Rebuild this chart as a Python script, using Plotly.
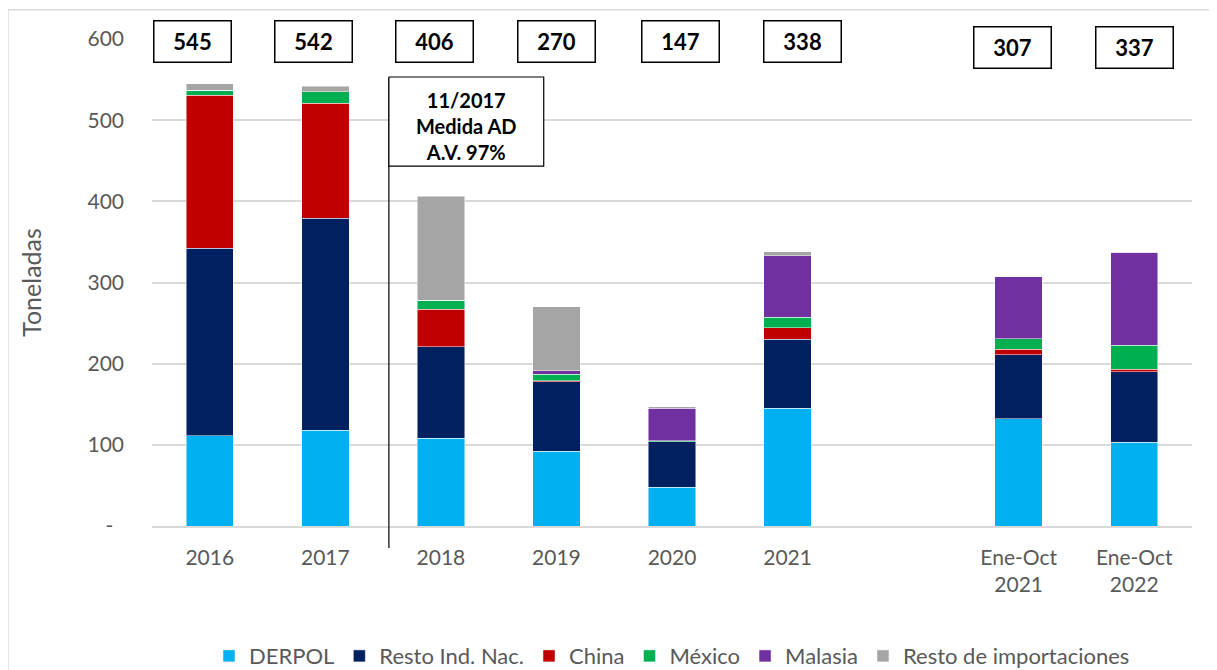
import plotly.graph_objects as go

categories = ["2016", "2017", "2018", "2019", "2020", "2021", " ", "Ene-Oct<br>2021", "Ene-Oct<br>2022"]

derpol = [111, 118, 108, 92, 48, 145, None, 132, 103]
resto_ind = [231, 261, 113, 86, 56, 85, None, 79, 87]
china = [189, 142, 46, 1, 0, 14, None, 7, 3]
mexico = [6, 14, 11, 8, 1, 13, None, 13, 30]
malasia = [0, 0, 0, 4, 40, 76, None, 76, 114]
resto_imp = [8, 7, 128, 79, 2, 5, None, 0, 0]

series = [
    ("DERPOL", derpol, "#00B0F0"),
    ("Resto Ind. Nac.", resto_ind, "#002060"),
    ("China", china, "#C00000"),
    ("México", mexico, "#00B050"),
    ("Malasia", malasia, "#7030A0"),
    ("Resto de importaciones", resto_imp, "#A5A5A5"),
]

# small horizontal nudges of the total boxes, as in the original sheet
box_shift = [-17, -12, -6, 0, 8, 15, 0, -6, 0]
box_y = [597, 597, 597, 597, 597, 597, None, 590, 590]

FONT = "Lato"
GREY = "#595959"

fig = go.Figure()
for name, vals, color in series:
    fig.add_trace(go.Bar(
        x=categories, y=vals, name=name, marker_color=color,
        marker_line={"color": "rgba(255,255,255,0.6)", "width": 0.8},
        width=0.41, hoverinfo="name+y",
    ))

# annotations on a category axis take the category index, not the label
for i in range(len(categories)):
    if derpol[i] is None:
        continue
    total = sum(s[1][i] for s in series)
    fig.add_annotation(
        x=i, y=box_y[i], xref="x", yref="y", xshift=box_shift[i],
        text=f"<b>{total}</b>", showarrow=False,
        font={"family": FONT, "size": 22, "color": "black"},
        bordercolor="black", borderwidth=1.5, borderpad=2,
        width=72, height=36, bgcolor="white",
    )

# measure marker between 2017 and 2018: line, white box, then text
fig.add_shape(type="line", xref="x", yref="paper", x0=1.55, x1=1.55, y0=-0.045, y1=0.92,
              line={"color": "black", "width": 1.2})
fig.add_shape(type="rect", xref="x", yref="paper", x0=1.55, x1=2.89, y0=0.739, y1=0.922,
              line={"color": "black", "width": 1.2}, fillcolor="white", layer="above")
fig.add_annotation(
    x=2.22, y=0.821, xref="x", yref="paper", xanchor="center", yanchor="middle",
    text="<b>11/2017<br>Medida AD<br>A.V. 97%</b>", showarrow=False, align="center",
    font={"family": FONT, "size": 20, "color": "black"},
)

# outer chart border
fig.add_shape(type="rect", xref="paper", yref="paper", x0=-0.1385, x1=1.04, y0=-0.5, y1=1.06,
              line={"color": "#D9D9D9", "width": 1.5}, layer="below")

# the page body adds an 8px margin, so the figure is sized to fit inside the window
fig.update_layout(
    barmode="stack",
    width=1209, height=662,
    margin={"l": 144, "r": 25, "t": 31, "b": 144},
    plot_bgcolor="white", paper_bgcolor="white",
    font={"family": FONT, "size": 21, "color": GREY},
    legend={"orientation": "h", "x": 0.5, "xanchor": "center",
            "yref": "container", "y": 0.021, "yanchor": "middle",
            "font": {"size": 22, "color": GREY}, "traceorder": "normal"},
    xaxis={"type": "category", "range": [-0.5, 8.5], "automargin": False,
           "showgrid": False, "showline": True, "linecolor": "#D9D9D9", "linewidth": 1.5,
           "ticks": "", "ticklabelstandoff": 12, "tickfont": {"size": 21, "color": GREY}},
    yaxis={"range": [0, 600], "automargin": False,
           "tickvals": [0, 100, 200, 300, 400, 500, 600],
           "ticktext": ["-\u00a0\u00a0", "100", "200", "300", "400", "500", "600"],
           "showgrid": True, "gridcolor": "#D9D9D9", "gridwidth": 1.5, "zeroline": False,
           "ticklabelstandoff": 27, "tickfont": {"size": 21, "color": GREY},
           "title": {"text": "Toneladas", "font": {"size": 25, "color": GREY}, "standoff": 38}},
)

fig.write_html("out.html")
